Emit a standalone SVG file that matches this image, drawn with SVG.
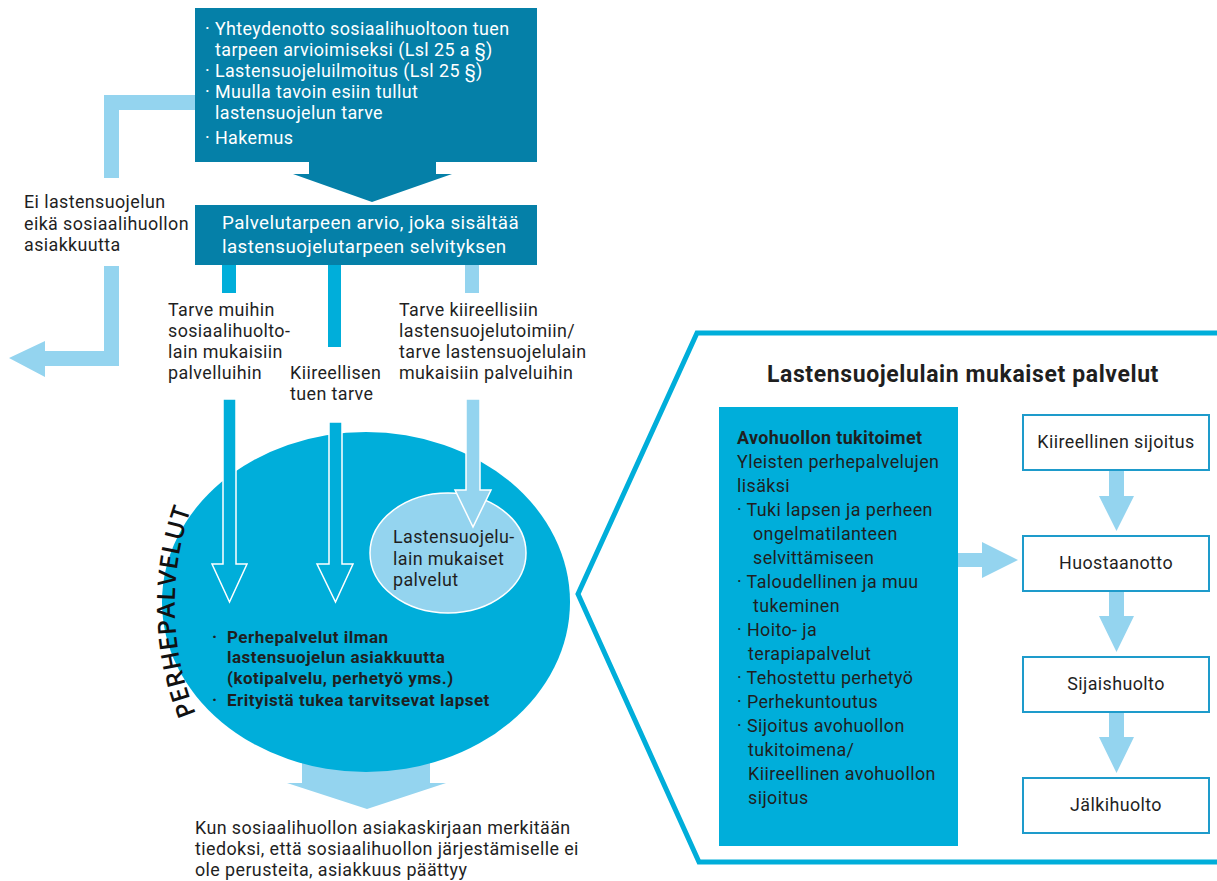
<svg xmlns="http://www.w3.org/2000/svg" width="1217" height="881" viewBox="0 0 1217 881">
<style>
text{font-family:Roboto,"Open Sans","Liberation Sans",sans-serif;font-size:17.9px;letter-spacing:0.4px;fill:#1f1f1f}
.w{fill:#ffffff}
.b{font-weight:bold}
.bc{font-weight:bold;font-size:17px;letter-spacing:0.5px}
.dark{fill:#0580A8}
.cyan{fill:#00AEDA}
.light{fill:#94D4EF}
.out{stroke:#ffffff;stroke-width:1.5}
.rbox{fill:#ffffff;stroke:#1E9BCB;stroke-width:2}
.mid{text-anchor:middle}
</style>
<rect width="1217" height="881" fill="#ffffff"/>

<g id="connectors">
  <polygon class="light" points="195,95 104,95 104,178 119,178 119,110 195,110"/>
  <polygon class="light" points="104,266 119,266 119,366 45,366 45,377 9,358 45,341 45,351 104,351"/>
  <polygon class="dark" points="309,160 436,160 436,174 452,174 372,202 293,174 309,174"/>
  <rect class="cyan" x="222" y="265" width="14" height="28"/>
  <rect class="cyan" x="328" y="265" width="13" height="82"/>
  <rect class="light" x="465" y="265" width="14" height="28"/>
  <polygon class="light" points="302,720 430,720 430,783 446,783 367,809 287,783 302,783"/>
</g>

<g id="perhepalvelut">
  <ellipse cx="366" cy="602" rx="204" ry="170" class="cyan"/>
  <path id="arcP" d="M 196,714 A 290 290 0 0 1 196,496" fill="none"/>
  <text style="font-family:'Open Sans','Noto Sans',sans-serif;font-size:25px;font-weight:600;fill:#111;letter-spacing:0.8px"><textPath href="#arcP">PERHEPALVELUT</textPath></text>
  <text class="bc" x="212" y="643">·</text>
  <text class="bc" x="227" y="643">Perhepalvelut ilman</text>
  <text class="bc" x="227" y="663">lastensuojelun asiakkuutta</text>
  <text class="bc" x="227" y="684">(kotipalvelu, perhetyö yms.)</text>
  <text class="bc" x="212" y="706">·</text>
  <text class="bc" x="227" y="706">Erityistä tukea tarvitsevat lapset</text>
</g>

<g id="lsl-ellipse">
  <ellipse cx="448" cy="553" rx="78" ry="60" class="light out"/>
  <text x="393" y="543">Lastensuojelu-</text>
  <text x="393" y="565">lain mukaiset</text>
  <text x="393" y="586">palvelut</text>
</g>

<g id="connectors-inner">
  <polygon class="cyan out" points="223,399 236,399 236,564 247,564 229.5,602 212,564 223,564"/>
  <polygon class="cyan out" points="329,422 342,422 342,564 353,564 335.5,602 317,564 329,564"/>
  <polygon class="light out" points="466,399 480,399 480,490 491,490 473,527 455,490 466,490"/>
</g>

<g id="top-box">
  <rect class="dark" x="195" y="8" width="342" height="154"/>
  <text class="w" x="205" y="35">· Yhteydenotto sosiaalihuoltoon tuen</text>
  <text class="w" x="215" y="56">tarpeen arvioimiseksi (Lsl 25 a §)</text>
  <text class="w" x="205" y="77">· Lastensuojeluilmoitus (Lsl 25 §)</text>
  <text class="w" x="205" y="98">· Muulla tavoin esiin tullut</text>
  <text class="w" x="215" y="119">lastensuojelun tarve</text>
  <text class="w" x="205" y="144">· Hakemus</text>
</g>

<g id="arvio-box">
  <rect class="dark" x="195" y="205" width="342" height="60"/>
  <text class="w" x="222" y="229" style="font-size:18.8px">Palvelutarpeen arvio, joka sisältää</text>
  <text class="w" x="222" y="253" style="font-size:18.8px">lastensuojelutarpeen selvityksen</text>
</g>

<g id="label-ei">
  <text x="24" y="208">Ei lastensuojelun</text>
  <text x="24" y="230">eikä sosiaalihuollon</text>
  <text x="24" y="251">asiakkuutta</text>
</g>

<g id="label-muihin">
  <text x="168" y="316">Tarve muihin</text>
  <text x="168" y="337">sosiaalihuolto-</text>
  <text x="168" y="358">lain mukaisiin</text>
  <text x="168" y="379">palvelluihin</text>
</g>

<g id="label-kiireellisen">
  <text x="290" y="379">Kiireellisen</text>
  <text x="290" y="400">tuen tarve</text>
</g>

<g id="label-kiireellisiin">
  <text x="399" y="316">Tarve kiireellisiin</text>
  <text x="399" y="337">lastensuojelutoimiin/</text>
  <text x="399" y="358">tarve lastensuojelulain</text>
  <text x="399" y="379">mukaisiin palveluihin</text>
</g>

<g id="label-end">
  <text x="195" y="834">Kun sosiaalihuollon asiakaskirjaan merkitään</text>
  <text x="195" y="855">tiedoksi, että sosiaalihuollon järjestämiselle ei</text>
  <text x="195" y="876">ole perusteita, asiakkuus päättyy</text>
</g>

<g id="lsl-panel">
  <polyline points="1219,333 697,333 578,594 699,862 1219,862" fill="none" stroke="#00AEDA" stroke-width="5"/>
  <text class="b mid" x="963" y="382" style="font-size:23px;letter-spacing:0.6px">Lastensuojelulain mukaiset palvelut</text>
</g>

<g id="avohuolto">
  <rect class="cyan" x="719" y="407" width="239" height="439"/>
  <text class="b" x="737" y="444">Avohuollon tukitoimet</text>
  <text x="737" y="468">Yleisten perhepalvelujen</text>
  <text x="737" y="492">lisäksi</text>
  <text x="737" y="516">· Tuki lapsen ja perheen</text>
  <text x="753" y="540">ongelmatilanteen</text>
  <text x="753" y="564">selvittämiseen</text>
  <text x="737" y="588">· Taloudellinen ja muu</text>
  <text x="753" y="612">tukeminen</text>
  <text x="737" y="636">· Hoito- ja</text>
  <text x="748" y="660">terapiapalvelut</text>
  <text x="737" y="684">· Tehostettu perhetyö</text>
  <text x="737" y="708">· Perhekuntoutus</text>
  <text x="737" y="732">· Sijoitus avohuollon</text>
  <text x="748" y="756">tukitoimena/</text>
  <text x="748" y="780">Kiireellinen avohuollon</text>
  <text x="748" y="804">sijoitus</text>
</g>

<g id="panel-connectors">
  <polygon class="light" points="958,553 982,553 982,542 1018,560 982,578 982,567 958,567"/>
  <polygon class="light" points="1109,470 1124,470 1124,496 1134,496 1116.5,531 1099,496 1109,496"/>
  <polygon class="light" points="1109,591 1124,591 1124,616 1134,616 1116.5,652 1099,616 1109,616"/>
  <polygon class="light" points="1109,712 1124,712 1124,737 1134,737 1116.5,773 1099,737 1109,737"/>
</g>

<g id="kiireellinen-sijoitus">
  <rect class="rbox" x="1023" y="415" width="186" height="55"/>
  <text class="mid" x="1116" y="448">Kiireellinen sijoitus</text>
</g>
<g id="huostaanotto">
  <rect class="rbox" x="1023" y="536" width="186" height="55"/>
  <text class="mid" x="1116" y="569">Huostaanotto</text>
</g>
<g id="sijaishuolto">
  <rect class="rbox" x="1023" y="657" width="186" height="55"/>
  <text class="mid" x="1116" y="690">Sijaishuolto</text>
</g>
<g id="jalkihuolto">
  <rect class="rbox" x="1023" y="778" width="186" height="55"/>
  <text class="mid" x="1116" y="811">Jälkihuolto</text>
</g>
</svg>
